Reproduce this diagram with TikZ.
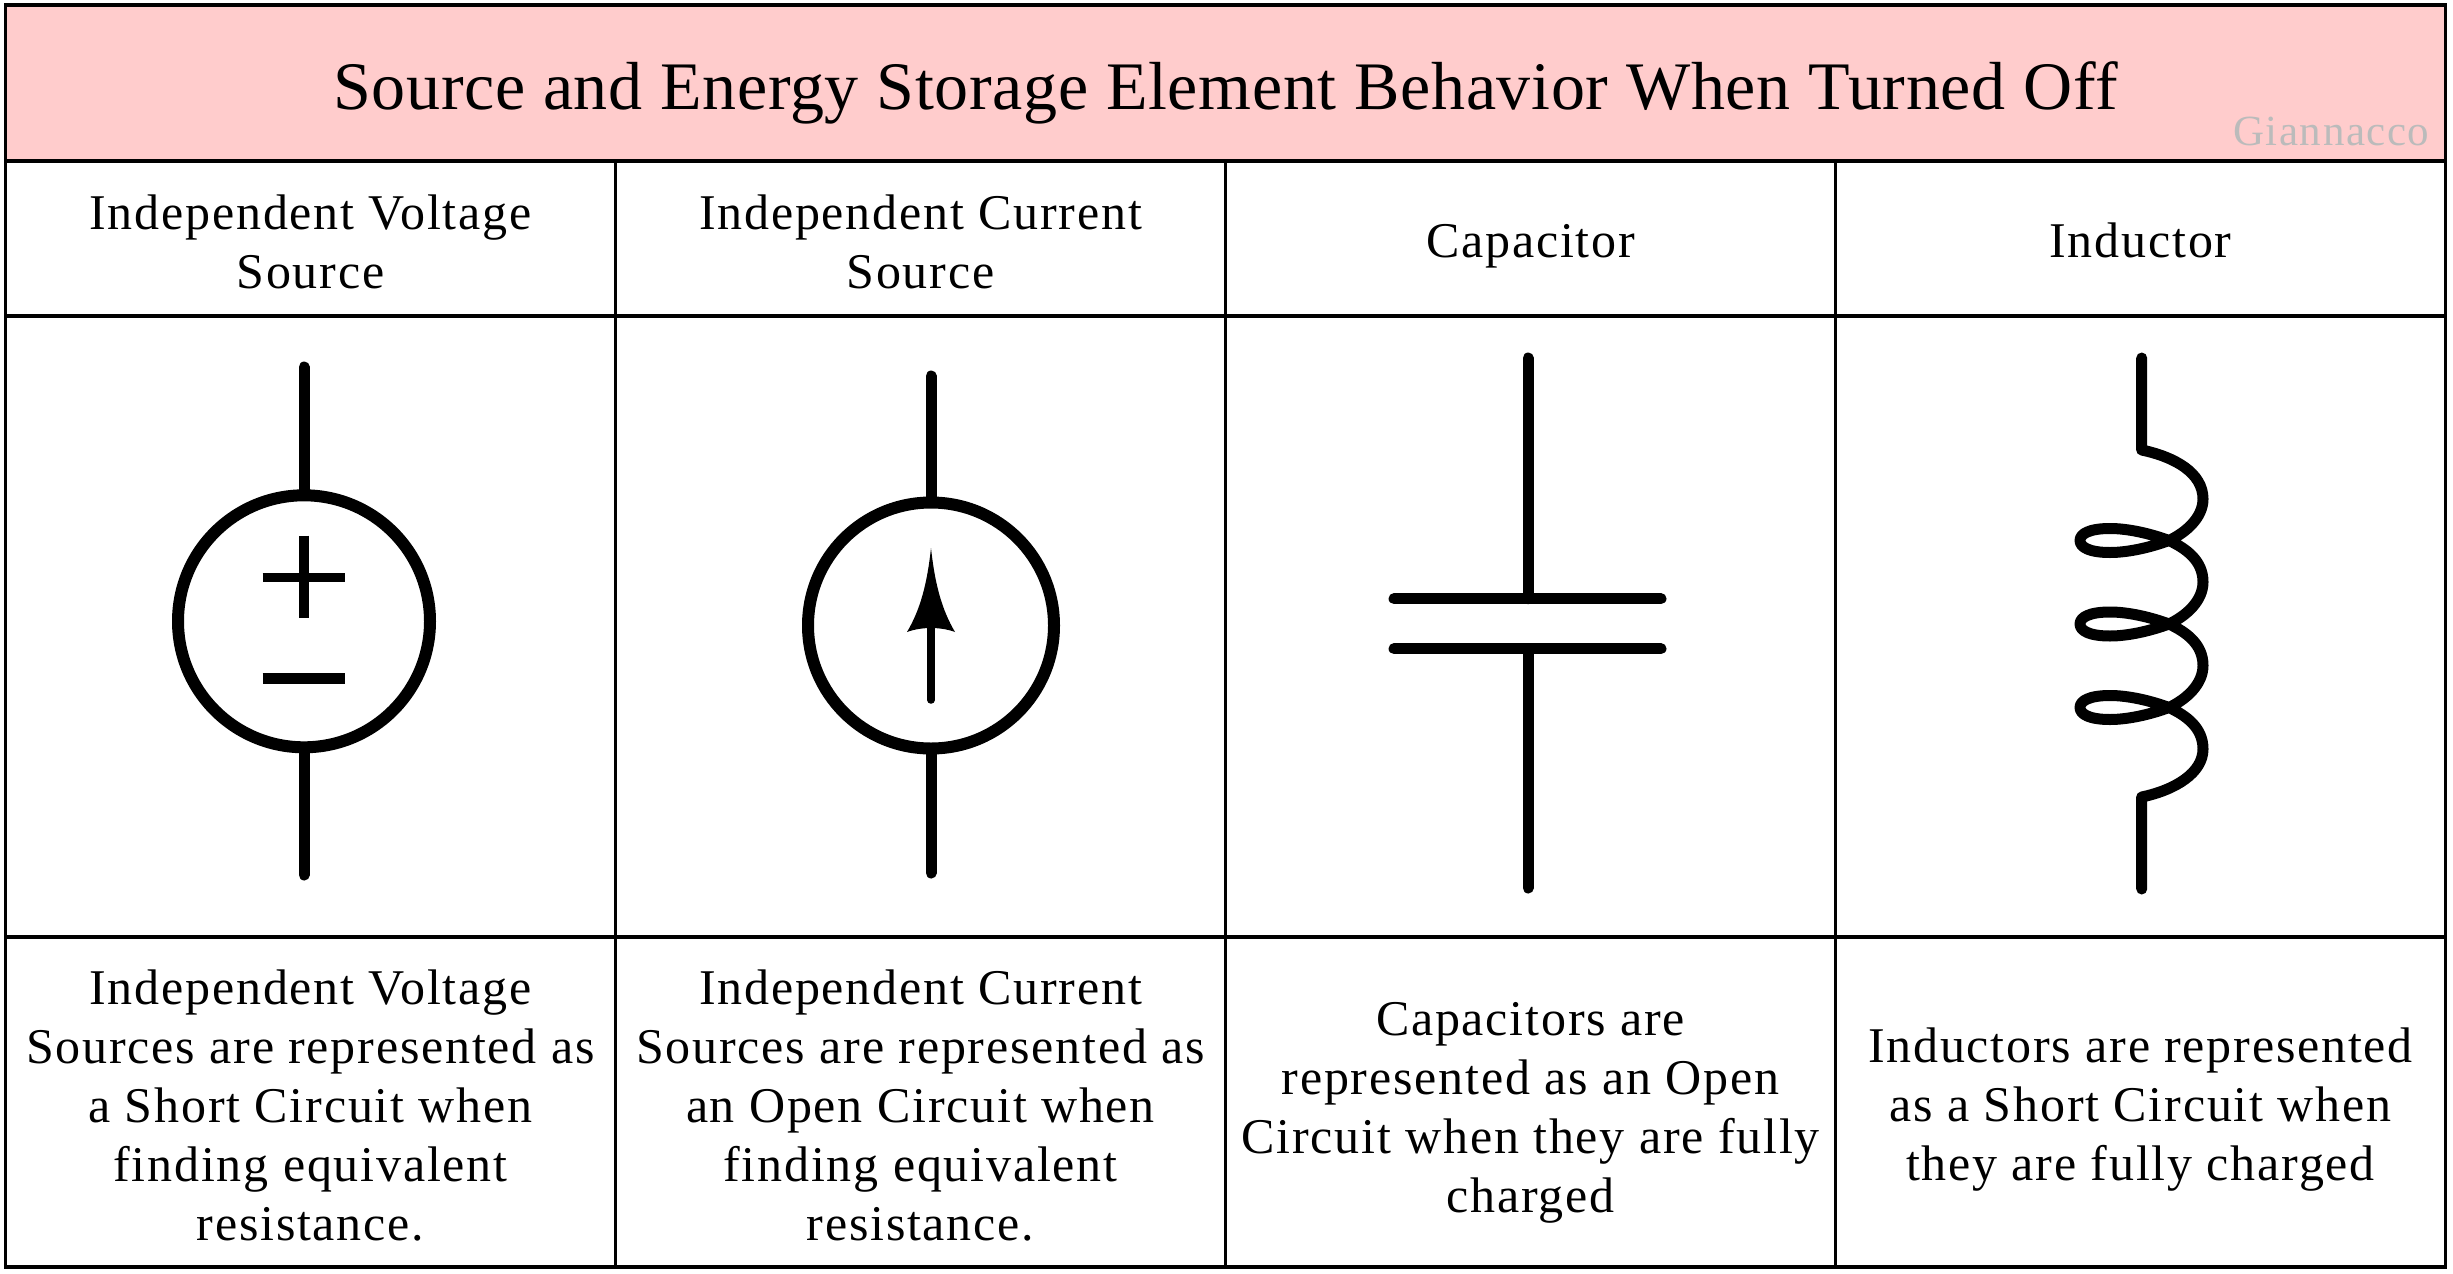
\documentclass[tikz,border=0pt]{standalone}
\usepackage{fontspec}
\setmainfont{Liberation Serif}
\newfontfamily\titlefont[LetterSpace=1]{Liberation Serif}
\newfontfamily\cellfont[LetterSpace=3.6]{Liberation Serif}
\definecolor{titlepink}{HTML}{FFCCCC}
\definecolor{markgray}{HTML}{BBBBBB}

\begin{document}
\begin{tikzpicture}[
    x=1pt, y=-1pt,
    titlecell/.style={
        rectangle,
        draw=black,
        line width=3.3pt,
        fill=titlepink,
        minimum width=2440pt,
        minimum height=156pt,
    },
    cell/.style={
        rectangle,
        draw=black,
        line width=3.3pt,
        minimum width=610pt,
        minimum height=#1,
    },
    celltext/.style={
        align=center,
        inner sep=0pt,
        font=\cellfont\fontsize{50}{59}\selectfont,
        execute at begin node=\strut,
        execute at end node=\strut,
    },
    wire/.style={
        line width=11pt,
        line cap=round,
        line join=round,
    },
    source/.style={
        circle,
        draw=black,
        line width=12pt,
        minimum size=#1,
        inner sep=0pt,
    },
    signbar/.style={
        line width=#1,
    },
]

\useasboundingbox (0,0) rectangle (2453,1274);

% === Title ===
\node[titlecell] (title) at (1225.5,83) {};
\node[font=\titlefont\fontsize{68}{80}\selectfont] (titletext) at ([shift={(0,10)}]title.center) {Source and Energy Storage Element Behavior When Turned Off};
\node[anchor=base east, text=markgray, font=\cellfont\fontsize{43}{48}\selectfont] (mark) at (2433,145) {Giannacco};

% === Column heads ===
\node[cell=155pt] (headv) at (310.5,238.5) {};
\node[cell=155pt] (headi) at (920.5,238.5) {};
\node[cell=155pt] (headc) at (1530.5,238.5) {};
\node[cell=155pt] (headl) at (2140.5,238.5) {};
\node[celltext] at ([shift={(0,12)}]headv.center) {Independent Voltage\\Source};
\node[celltext] at ([shift={(0,12)}]headi.center) {Independent Current\\Source};
\node[celltext] at ([shift={(0,7)}]headc.center) {Capacitor};
\node[celltext] at ([shift={(0,7)}]headl.center) {Inductor};

% === Symbol cells ===
\node[cell=621pt] (symv) at (310.5,626.5) {};
\node[cell=621pt] (symi) at (920.5,626.5) {};
\node[cell=621pt] (symc) at (1530.5,626.5) {};
\node[cell=621pt] (syml) at (2140.5,626.5) {};

% === Description cells ===
\node[cell=330pt] (descv) at (310.5,1102) {};
\node[cell=330pt] (desci) at (920.5,1102) {};
\node[cell=330pt] (descc) at (1530.5,1102) {};
\node[cell=330pt] (descl) at (2140.5,1102) {};
\node[celltext] at ([shift={(0,12)}]descv.center) {Independent Voltage\\Sources are represented as\\a Short Circuit when\\finding equivalent\\resistance.};
\node[celltext] at ([shift={(0,12)}]desci.center) {Independent Current\\Sources are represented as\\an Open Circuit when\\finding equivalent\\resistance.};
\node[celltext] at ([shift={(0,14)}]descc.center) {Capacitors are\\represented as an Open\\Circuit when they are fully\\charged};
\node[celltext] at ([shift={(0,11)}]descl.center) {Inductors are represented\\as a Short Circuit when\\they are fully charged};

% === Voltage source ===
\node[source=252pt] (vsrc) at (304,621.3) {};
\coordinate (vtop) at (304,367);
\coordinate (vbot) at (304,875);
\draw[wire] (vtop) -- (vsrc.north);
\draw[wire] (vsrc.south) -- (vbot);
\draw[signbar=9.5pt] (304,535.7) -- (304,618);
\draw[signbar=9.5pt] (262.7,577.3) -- (345.3,577.3);
\draw[signbar=10.5pt] (262.7,678.3) -- (345.3,678.3);

% === Current source ===
\node[source=246pt] (isrc) at (931,625.5) {};
\coordinate (itop) at (931,376);
\coordinate (ibot) at (931,873);
\draw[wire] (itop) -- (isrc.north);
\draw[wire] (isrc.south) -- (ibot);
\draw[line width=7.5pt, line cap=round] (931,700) -- (931,628);
\fill (931,548) .. controls (935,585) and (942,610) .. (955,632)
    .. controls (947,629) and (938,628) .. (931,628)
    .. controls (924,628) and (915,629) .. (907,632)
    .. controls (920,610) and (927,585) .. (931,548) -- cycle;

% === Capacitor ===
\coordinate (ctop) at (1528,358);
\coordinate (cbot) at (1528,888);
\coordinate (cupl) at (1394,598.7);
\coordinate (cupr) at (1661,598.7);
\coordinate (clol) at (1394,648.7);
\coordinate (clor) at (1661,648.7);
\draw[wire] (cupl) -- (cupr);
\draw[wire] (clol) -- (clor);
\draw[wire] (ctop) -- (1528,598.7);
\draw[wire] (1528,648.7) -- (cbot);

% === Inductor ===
\draw[wire] (2141.7,358) -- (2141.7,450)
    .. controls (2175,457) and (2203,473) .. (2203,499)
    \foreach \ly in {540.5,624,707.5} {
        .. controls (2203,\ly-23) and (2186,\ly-8) .. (2169,\ly)
        .. controls (2150,\ly+7) and (2128,\ly+12) .. (2110,\ly+12)
        .. controls (2090,\ly+12) and (2080,\ly+7) .. (2080,\ly)
        .. controls (2080,\ly-7) and (2090,\ly-12) .. (2110,\ly-12)
        .. controls (2128,\ly-12) and (2150,\ly-7) .. (2169,\ly)
        .. controls (2186,\ly+8) and (2203,\ly+20) .. (2203,\ly+41.5)
    }
    .. controls (2203,773) and (2175,790) .. (2141.7,797) -- (2141.7,889);

\end{tikzpicture}
\end{document}
